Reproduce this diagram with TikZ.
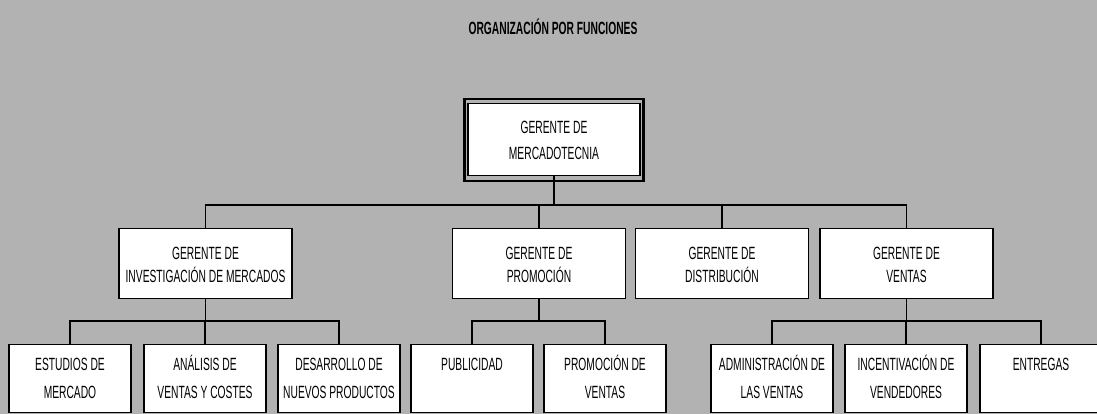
\documentclass[tikz,border=0pt]{standalone}
\usepackage{fontspec}
\setmainfont{Liberation Sans}[FakeStretch=0.58]
\usetikzlibrary{positioning}

\begin{document}
\begin{tikzpicture}[x=1pt, y=-1pt,
        box/.style={draw, line width=1.1pt, fill=white, anchor=north, align=center,
            inner xsep=2pt, inner ysep=8pt, font=\fontsize{17.7}{28}\selectfont},
        jefe/.style={box, minimum width=173pt, text height=45.5pt, text depth=8.5pt,
            font=\fontsize{17.7}{23}\selectfont},
        area/.style={box, minimum width=122pt, text height=45.5pt, text depth=6.5pt},
        solo/.style={text height=17.5pt, text depth=34.5pt},
        link/.style={line width=1.3pt}]
    \fill[black!30] (0,0) rectangle (1097,414);
    \useasboundingbox (0,0) rectangle (1097,414);

    \node[font=\bfseries\fontsize{17.7}{20}\selectfont] (titulo) at (553,27) {ORGANIZACIÓN POR FUNCIONES};

    % gerencia general
    \node[box, minimum width=172pt, text height=48.4pt, text depth=7.6pt,
        font=\fontsize{17.7}{26}\selectfont] (gmk) at (554,103) {GERENTE DE\\MERCADOTECNIA};
    \draw[line width=2.5pt] ([shift={(-3pt,4pt)}]gmk.north west) rectangle ([shift={(3pt,-5pt)}]gmk.south east);

    % gerentes
    \node[jefe] (gim) at (205.5,228) {GERENTE DE\\INVESTIGACIÓN DE MERCADOS};
    \node[jefe] (gpr) at (539,228) {GERENTE DE\\PROMOCIÓN};
    \node[jefe] (gdi) at (722,228) {GERENTE DE\\DISTRIBUCIÓN};
    \node[jefe] (gve) at (906.5,228) {GERENTE DE\\VENTAS};

    % areas
    \node[area] (est) at (70,344) {ESTUDIOS DE\\MERCADO};
    \node[area] (ana) at (205,344) {ANÁLISIS DE\\VENTAS Y COSTES};
    \node[area] (des) at (339,344) {DESARROLLO DE\\NUEVOS PRODUCTOS};
    \node[area, solo] (pub) at (472,344) {PUBLICIDAD};
    \node[area] (pve) at (605,344) {PROMOCIÓN DE\\VENTAS};
    \node[area] (adm) at (772,344) {ADMINISTRACIÓN DE\\LAS VENTAS};
    \node[area] (inc) at (906,344) {INCENTIVACIÓN DE\\VENDEDORES};
    \node[area, solo] (ent) at (1041,344) {ENTREGAS};

    \foreach \n in {gim,gpr,gdi,gve}
        \draw[link] (gmk.south) -- ++(0,29) -| (\n.north);
    \foreach \n in {est,ana,des}
        \draw[link] (gim.south) -- ++(0,22) -| (\n.north);
    \foreach \n in {pub,pve}
        \draw[link] (gpr.south) -- ++(0,22) -| (\n.north);
    \foreach \n in {adm,inc,ent}
        \draw[link] (gve.south) -- ++(0,22) -| (\n.north);
\end{tikzpicture}
\end{document}
